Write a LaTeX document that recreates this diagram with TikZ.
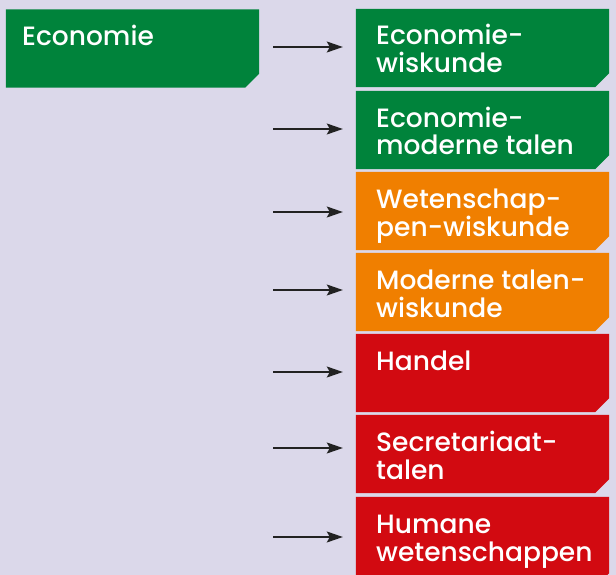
\documentclass[tikz,border=0pt]{standalone}
\usepackage{fontspec}
\setmainfont{Poppins Medium}
\usetikzlibrary{arrows.meta}
\definecolor{bg}{HTML}{DBD8EA}
\definecolor{grn}{HTML}{00833B}
\definecolor{org}{HTML}{F07F00}
\definecolor{rd}{HTML}{D20A11}
\definecolor{ink}{HTML}{222222}
\tikzset{
  box/.style={rectangle, minimum width=253pt, minimum height=78pt, inner sep=0pt, draw=none},
  lbl/.style={text=white, font=\fontsize{26.5}{28}\selectfont, align=left, inner sep=0pt, anchor=base west},
  arr/.style={-{Stealth[length=16pt,width=11pt,inset=3pt]}, draw=ink, line width=1.2pt, shorten >=13pt}
}
\newcommand{\cutbox}[2]{\fill[#2] (#1.north west) -- (#1.north east) -- ([yshift=14pt]#1.south east) -- ([xshift=-14pt]#1.south east) -- (#1.south west) -- cycle;}
\begin{document}
\begin{tikzpicture}[x=1pt,y=-1pt]
\useasboundingbox (0,0) rectangle (616,575);
\fill[bg] (0,0) rectangle (616,575);
\clip (0,0) rectangle (616,575);
% left box
\node[box] (l) at (132.5,48.5) {};
\cutbox{l}{grn}
\node[lbl] (lt) at (22,46) {Economie};
% right boxes
\node[box] (r1) at (482.5,48) {};
\node[box] (r2) at (482.5,130) {};
\node[box] (r3) at (482.5,211) {};
\node[box] (r4) at (482.5,292) {};
\node[box] (r5) at (482.5,373) {};
\node[box] (r6) at (482.5,454) {};
\node[box, minimum height=90pt] (r7) at (482.5,542) {};
\cutbox{r1}{grn}
\cutbox{r2}{grn}
\cutbox{r3}{org}
\cutbox{r4}{org}
\cutbox{r5}{rd}
\cutbox{r6}{rd}
\cutbox{r7}{rd}
\node[lbl] (t1) at (376,73) {Economie-\\wiskunde};
\node[lbl] (t2) at (376,155) {Economie-\\moderne talen};
\node[lbl] (t3) at (376,236) {Wetenschap-\\pen-wiskunde};
\node[lbl] (t4) at (376,317) {Moderne talen-\\wiskunde};
\node[lbl] (t5) at (376,370) {Handel};
\node[lbl] (t6) at (376,479) {Secretariaat-\\talen};
\node[lbl] (t7) at (376,561) {Humane\\wetenschappen};
% arrows
\coordinate (s1) at (273,47);
\coordinate (s2) at (273,129);
\coordinate (s3) at (273,212);
\coordinate (s4) at (273,290);
\coordinate (s5) at (273,372);
\coordinate (s6) at (273,448);
\coordinate (s7) at (273,537);
\foreach \i in {1,...,7} \draw[arr] (s\i) -- (r\i.west |- s\i);
\end{tikzpicture}
\end{document}
